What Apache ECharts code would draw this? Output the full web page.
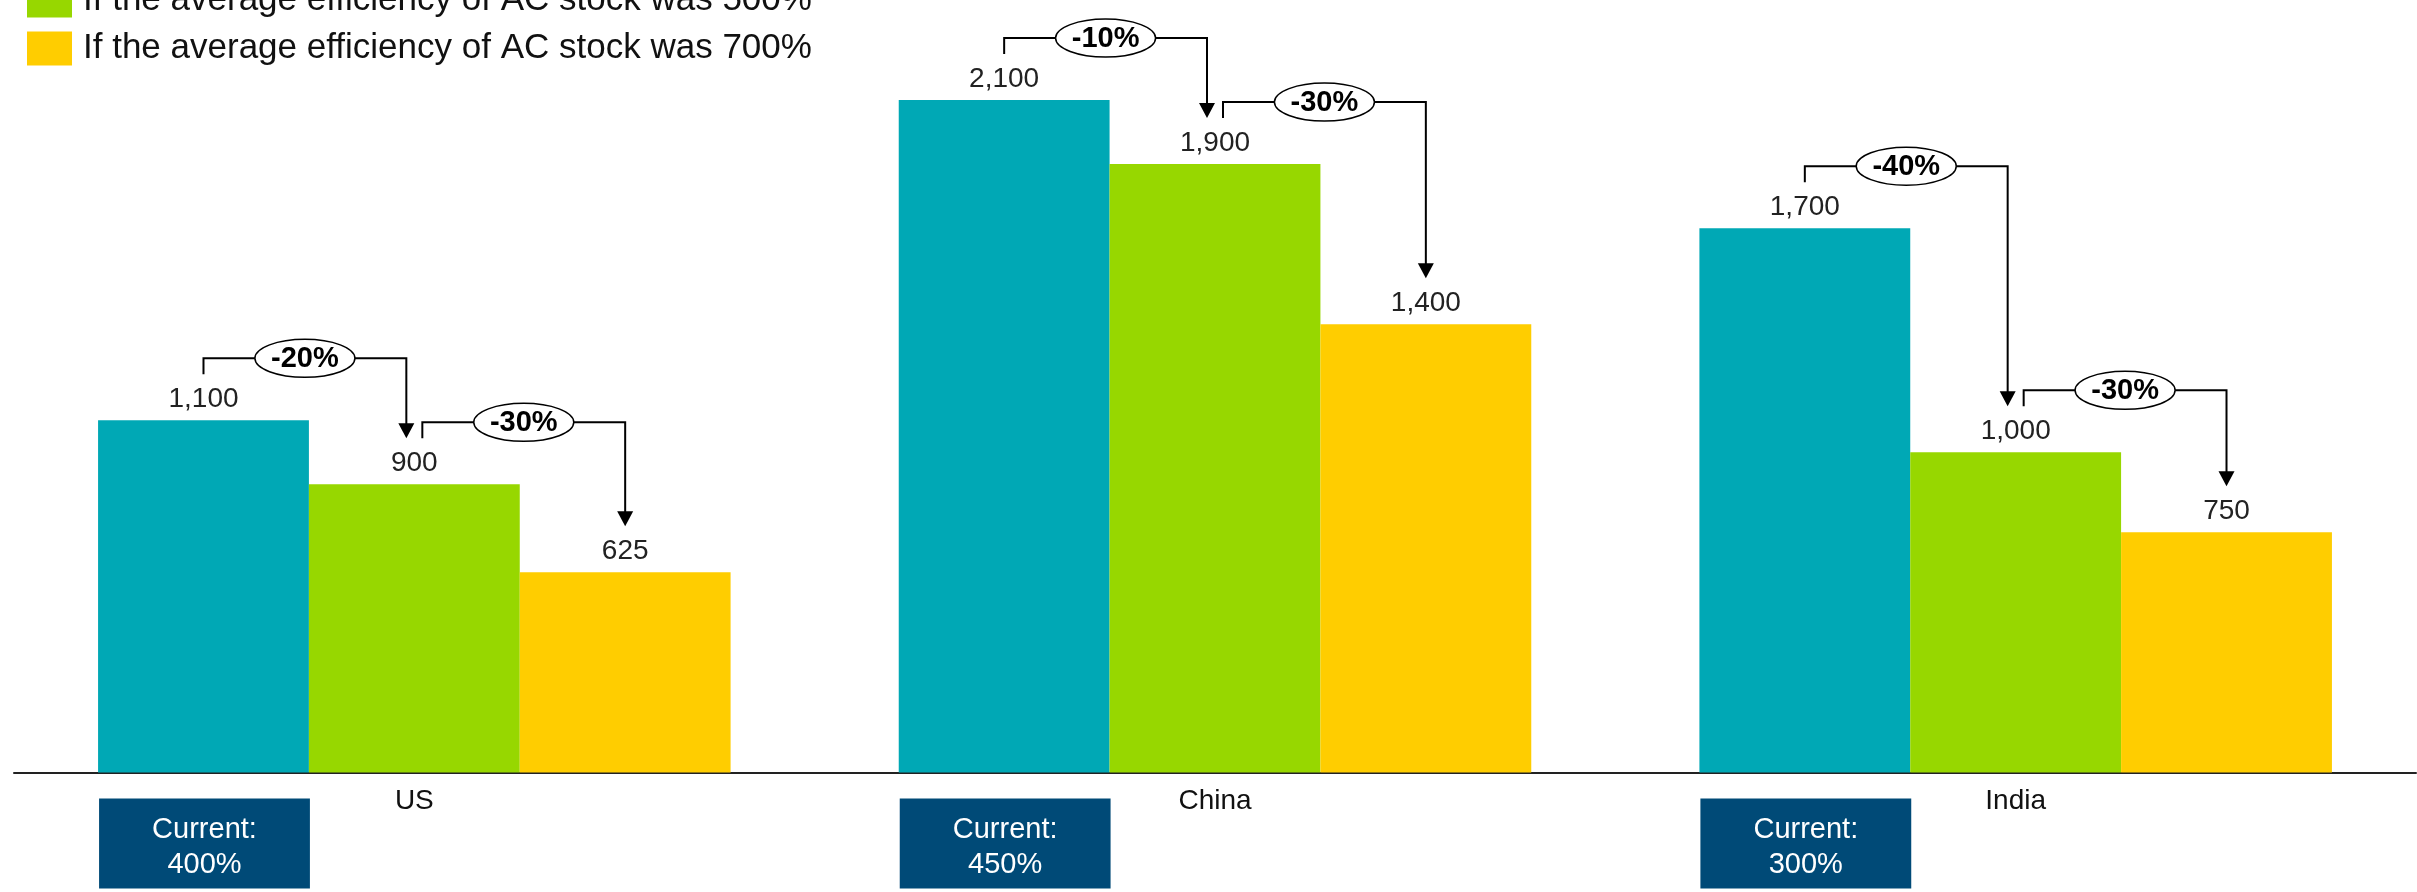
<!DOCTYPE html>
<html>
<head>
<meta charset="utf-8">
<script src="https://cdn.jsdelivr.net/npm/echarts@6/dist/echarts.min.js"></script>
<style>
  html, body { margin: 0; padding: 0; background: #ffffff; }
  #chart { width: 2417px; height: 892px; }
</style>
</head>
<body>
<div id="chart"></div>
<script>
// ---- data ----
const categories = ['US', 'China', 'India'];
const seriesNames = [
  'At the current average efficiency of AC stock',
  'If the average efficiency of AC stock was 500%',
  'If the average efficiency of AC stock was 700%'
];
const currentStockValues = [1100, 2100, 1700];
const eff500Values = [900, 1900, 1000];
const eff700Values = [625, 1400, 750];
const changeToEff500 = ['-20%', '-10%', '-40%'];
const changeToEff700 = ['-30%', '-30%', '-30%'];
const currentEfficiency = ['400%', '450%', '300%'];

// ---- styles ----
const FONT = '"Liberation Sans", Arial, sans-serif';
const colors = ['#00A8B5', '#97D700', '#FFCD00'];
const CAT_GAP = 0.21;

const chart = echarts.init(document.getElementById('chart'), null, { renderer: 'canvas' });

function barWidthOf(api) {
  return api.size([1, 0])[0] * (1 - CAT_GAP) / 3;
}

function bracketSeries(fromSlot, fromValues, toValues, labels) {
  const data = categories.map((c, i) => [i, fromValues[i], toValues[i], labels[i]]);
  return {
    type: 'custom',
    z: 10,
    silent: true,
    clip: false,
    data: data,
    encode: { x: 0, y: 1 },
    renderItem: function (params, api) {
      const idx = api.value(0);
      const fromV = api.value(1);
      const toV = api.value(2);
      const label = labels[params.dataIndex];
      const bw = barWidthOf(api);
      const pFrom = api.coord([idx, fromV]);
      const pTo = api.coord([idx, toV]);
      const toSlot = fromSlot + 1;
      const xFrom = pFrom[0] + (fromSlot - 1) * bw + (fromSlot === 1 ? 8 : 0);
      const xTo = pTo[0] + (toSlot - 1) * bw + (toSlot === 1 ? -8 : 0);
      const yH = pFrom[1] - 62;
      const yTick = pFrom[1] - 46;
      const tip = pTo[1] - 46;
      const headH = 15, headW = 8;
      const line = { stroke: '#000', lineWidth: 2, fill: null };
      return {
        type: 'group',
        children: [
          {
            type: 'polyline',
            shape: { points: [[xFrom, yTick], [xFrom, yH], [xTo, yH], [xTo, tip - headH + 1]] },
            style: line
          },
          {
            type: 'polygon',
            shape: { points: [[xTo - headW, tip - headH], [xTo + headW, tip - headH], [xTo, tip]] },
            style: { fill: '#000' }
          },
          {
            type: 'ellipse',
            shape: { cx: (xFrom + xTo) / 2, cy: yH, rx: 50, ry: 19 },
            style: { fill: '#fff', stroke: '#000', lineWidth: 1.5 }
          },
          {
            type: 'text',
            x: (xFrom + xTo) / 2,
            y: yH + 1,
            style: {
              text: label,
              fill: '#000',
              font: 'bold 29px ' + FONT,
              align: 'center',
              verticalAlign: 'middle'
            }
          }
        ]
      };
    }
  };
}

const boxSeries = {
  type: 'custom',
  z: 10,
  silent: true,
  clip: false,
  data: categories.map((c, i) => [i, 0, currentEfficiency[i]]),
  encode: { x: 0, y: 1 },
  renderItem: function (params, api) {
    const idx = api.value(0);
    const bw = barWidthOf(api);
    const p = api.coord([idx, 0]);
    const left = p[0] - 1.5 * bw + 1;
    const top = p[1] + 26;
    const h = 90;
    return {
      type: 'group',
      children: [
        {
          type: 'rect',
          shape: { x: left, y: top, width: bw, height: h },
          style: { fill: '#004A77' }
        },
        {
          type: 'text',
          x: left + bw / 2,
          y: top + h / 2 + 4,
          style: {
            text: 'Current:\n' + currentEfficiency[params.dataIndex],
            fill: '#fff',
            font: '29px ' + FONT,
            lineHeight: 35,
            align: 'center',
            verticalAlign: 'middle'
          }
        }
      ]
    };
  }
};

function barSeries(i, values) {
  return {
    name: seriesNames[i],
    type: 'bar',
    data: values,
    barGap: '0%',
    barCategoryGap: (CAT_GAP * 100) + '%',
    itemStyle: { color: colors[i] },
    label: {
      show: true,
      position: 'top',
      distance: 7,
      color: '#222',
      fontSize: 28,
      lineHeight: 28,
      fontFamily: FONT,
      formatter: function (p) { return Number(p.value).toLocaleString('en-US'); }
    }
  };
}

const option = {
  animation: false,
  backgroundColor: '#ffffff',
  legend: {
    data: seriesNames,
    orient: 'vertical',
    left: 27,
    top: -65,
    padding: 0,
    itemWidth: 45,
    itemHeight: 34,
    itemGap: 13,
    icon: 'rect',
    selectedMode: false,
    textStyle: {
      fontSize: 35,
      fontFamily: FONT,
      color: '#111',
      padding: [0, 0, 0, 6]
    }
  },
  grid: {
    left: 14,
    right: 1,
    top: 4,
    bottom: 119.5,
    containLabel: false
  },
  xAxis: {
    type: 'category',
    data: categories,
    axisTick: { show: false },
    axisLine: { show: true, lineStyle: { color: '#222', width: 2 } },
    axisLabel: {
      fontSize: 28,
      fontFamily: FONT,
      color: '#111',
      margin: 15
    }
  },
  yAxis: {
    type: 'value',
    min: 0,
    max: 2400,
    show: false,
    splitLine: { show: false }
  },
  series: [
    barSeries(0, currentStockValues),
    barSeries(1, eff500Values),
    barSeries(2, eff700Values),
    bracketSeries(0, currentStockValues, eff500Values, changeToEff500),
    bracketSeries(1, eff500Values, eff700Values, changeToEff700),
    boxSeries
  ]
};

chart.setOption(option);
</script>
</body>
</html>
